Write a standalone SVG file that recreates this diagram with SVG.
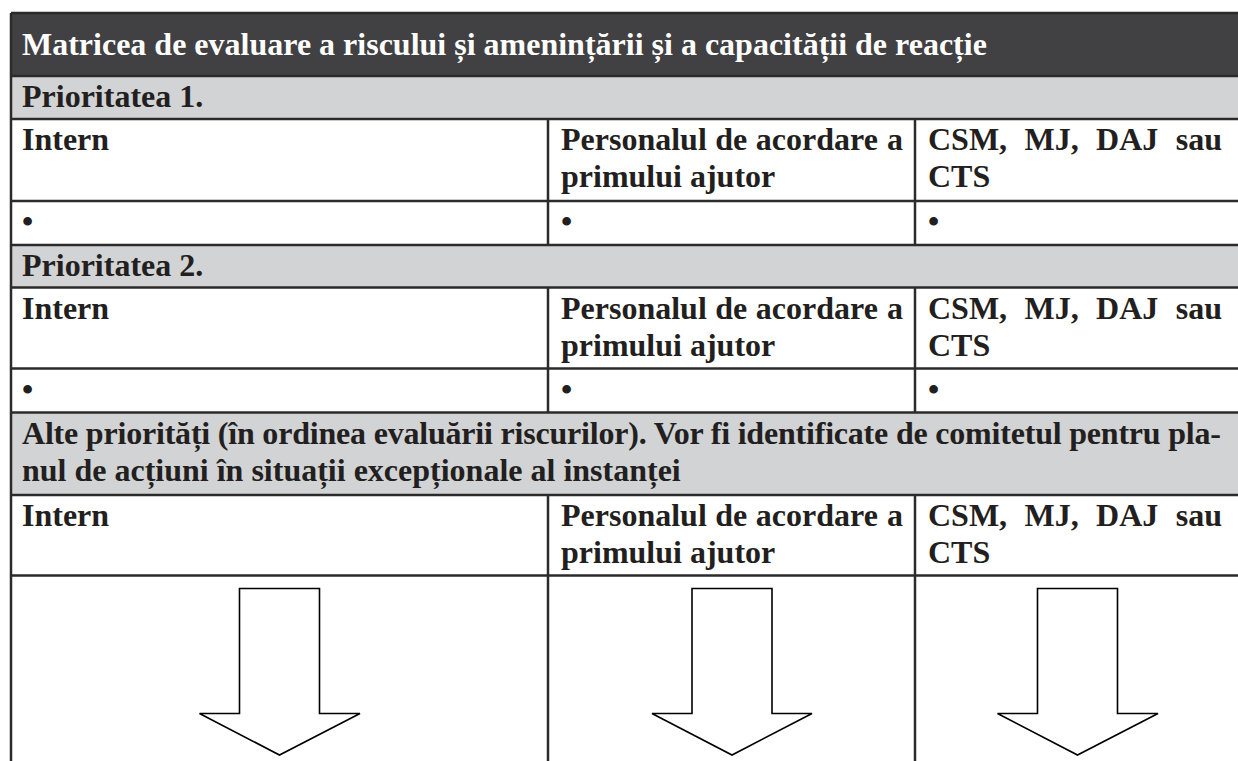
<svg xmlns="http://www.w3.org/2000/svg" width="1238" height="761" viewBox="0 0 1238 761">
<style>
  .t{font-family:"Liberation Serif","Times New Roman",serif;font-weight:bold;font-size:32px;fill:#231f20}
  .w{fill:#ffffff}
  .hl{stroke:#2b2b2b;stroke-width:2.5;fill:none}
  .gray{fill:#d1d3d4}
  .arrow{fill:#ffffff;stroke:#000000;stroke-width:1.6;stroke-linejoin:miter}
</style>
<rect x="0" y="0" width="1238" height="761" fill="#ffffff"/>
<g id="grid">
  <rect x="11" y="13" width="1229" height="63" fill="#414042"/>
  <rect class="gray" x="11" y="76" width="1229" height="43"/>
  <rect class="gray" x="11" y="245" width="1229" height="42.5"/>
  <rect class="gray" x="11" y="412.5" width="1229" height="82.5"/>
  <path class="hl" d="M11 13H1240M11 76H1240M11 119H1240M11 201H1240M11 245H1240M11 287.5H1240M11 368.5H1240M11 412.5H1240M11 495H1240M11 575.5H1240"/>
  <path class="hl" d="M11 13V761"/>
  <path class="hl" d="M548 119V245M915 119V245M548 287.5V412.5M915 287.5V412.5M548 495V761M915 495V761"/>
</g>
<g id="title">
  <text class="t w" x="22" y="55">Matricea de evaluare a riscului și amenințării și a capacității de reacție</text>
</g>
<g id="priority1">
  <text class="t" x="22" y="107">Prioritatea 1.</text>
</g>
<g id="p1-intern">
  <text class="t" x="22" y="150">Intern</text>
  <text class="t" x="22" y="232">•</text>
</g>
<g id="p1-personal">
  <text class="t" y="150"><tspan x="561">Personalul</tspan><tspan x="715.3">de</tspan><tspan x="755.8">acordare</tspan><tspan x="886.9">a</tspan></text>
  <text class="t" x="561" y="187">primului ajutor</text>
  <text class="t" x="561" y="232">•</text>
</g>
<g id="p1-csm">
  <text class="t" y="150"><tspan x="928">CSM,</tspan><tspan x="1024.5">MJ,</tspan><tspan x="1096.1">DAJ</tspan><tspan x="1175.8">sau</tspan></text>
  <text class="t" x="928" y="187">CTS</text>
  <text class="t" x="928" y="232">•</text>
</g>
<g id="priority2">
  <text class="t" x="22" y="276">Prioritatea 2.</text>
</g>
<g id="p2-intern">
  <text class="t" x="22" y="318.5">Intern</text>
  <text class="t" x="22" y="399.5">•</text>
</g>
<g id="p2-personal">
  <text class="t" y="318.5"><tspan x="561">Personalul</tspan><tspan x="715.3">de</tspan><tspan x="755.8">acordare</tspan><tspan x="886.9">a</tspan></text>
  <text class="t" x="561" y="355.5">primului ajutor</text>
  <text class="t" x="561" y="399.5">•</text>
</g>
<g id="p2-csm">
  <text class="t" y="318.5"><tspan x="928">CSM,</tspan><tspan x="1024.5">MJ,</tspan><tspan x="1096.1">DAJ</tspan><tspan x="1175.8">sau</tspan></text>
  <text class="t" x="928" y="355.5">CTS</text>
  <text class="t" x="928" y="399.5">•</text>
</g>
<g id="other-priorities">
  <text class="t" x="22" y="443.5" textLength="1199" lengthAdjust="spacing">Alte priorități (în ordinea evaluării riscurilor). Vor fi identificate de comitetul pentru pla-</text>
  <text class="t" x="22" y="481">nul de acțiuni în situații excepționale al instanței</text>
</g>
<g id="p3-intern">
  <text class="t" x="22" y="526">Intern</text>
</g>
<g id="p3-personal">
  <text class="t" y="526"><tspan x="561">Personalul</tspan><tspan x="715.3">de</tspan><tspan x="755.8">acordare</tspan><tspan x="886.9">a</tspan></text>
  <text class="t" x="561" y="563">primului ajutor</text>
</g>
<g id="p3-csm">
  <text class="t" y="526"><tspan x="928">CSM,</tspan><tspan x="1024.5">MJ,</tspan><tspan x="1096.1">DAJ</tspan><tspan x="1175.8">sau</tspan></text>
  <text class="t" x="928" y="563">CTS</text>
</g>
<g id="connectors">
  <polygon class="arrow" points="239.5,588.5 319.5,588.5 319.5,713.5 360,713.5 279.5,755 199.5,713.5 239.5,713.5"/>
  <polygon class="arrow" points="692,588.5 772,588.5 772,713.5 812,713.5 732,755 652,713.5 692,713.5"/>
  <polygon class="arrow" points="1037.5,588.5 1117.5,588.5 1117.5,713.5 1158,713.5 1077.5,755 997.5,713.5 1037.5,713.5"/>
</g>
</svg>
